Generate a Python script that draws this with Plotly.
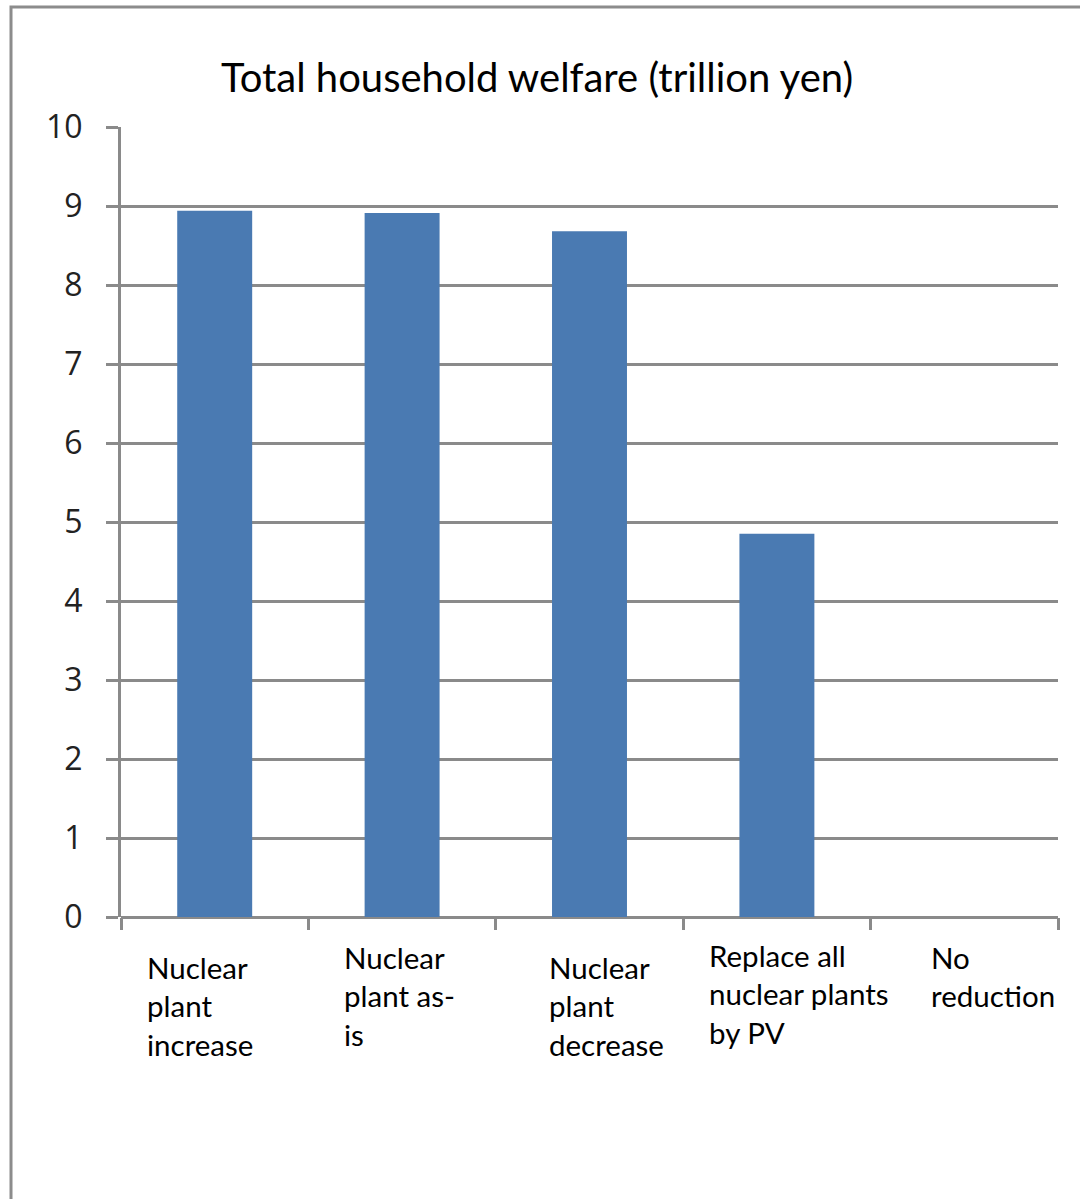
import plotly.graph_objects as go

categories = ["Nuclear plant increase", "Nuclear plant as-is", "Nuclear plant decrease",
              "Replace all nuclear plants by PV", "No reduction"]
values = [8.94, 8.91, 8.68, 4.85, 0.0]
label_lines = ["Nuclear<br>plant<br>increase", "Nuclear<br>plant as-<br>is", "Nuclear<br>plant<br>decrease",
               "Replace all<br>nuclear plants<br>by PV", "No<br>reduction"]
y_ticks = [0, 1, 2, 3, 4, 5, 6, 7, 8, 9, 10]
title_text = "Total household welfare (trillion yen)"

W, H = 1080, 1199
L, R, T, B = 121, 22, 127, 282
pw, ph = W - L - R, H - T - B

def px(x):
    return (x - L) / pw

def py(y):
    return (H - B - y) / ph

GRID = "#8a8a8a"
fig = go.Figure(go.Bar(x=list(range(len(categories))), y=values, marker_color="#4a7ab2",
                       marker_line_width=0, width=0.4, hovertext=categories))

# label placement (left edge px, top px)
lab_pos = [(145, 948), (342, 938), (547, 948), (707, 936), (929, 938)]
for txt, (lx, ly) in zip(label_lines, lab_pos):
    fig.add_annotation(x=px(lx), y=py(ly), xref="paper", yref="paper", text=txt, showarrow=False,
                       xanchor="left", yanchor="top", align="left",
                       font=dict(family="Lato, Open Sans, sans-serif", size=29.5, color="#000000"))

fig.add_shape(type="rect", xref="paper", yref="paper", x0=px(11), x1=px(1095), y0=py(1215), y1=py(7),
              line=dict(color="#8c8c8c", width=3), fillcolor="rgba(0,0,0,0)", layer="below")

fig.update_layout(
    width=W, height=H, margin=dict(l=L, r=R, t=T, b=B),
    paper_bgcolor="white", plot_bgcolor="white", showlegend=False,
    title=dict(text=title_text, x=px(537), xref="paper", xanchor="center", y=1 - 78 / H,
               yref="container", yanchor="middle",
               font=dict(family="Lato, Open Sans, sans-serif", size=40, color="#000000")),
    xaxis=dict(type="linear", range=[-0.5, 4.5], tickmode="array", tickvals=[-0.5, 0.5, 1.5, 2.5, 3.5, 4.5],
               showticklabels=False, ticks="outside", ticklen=12, tickwidth=3, tickcolor=GRID,
               showgrid=False, zeroline=False, showline=False),
    yaxis=dict(range=[0, 10], tickvals=y_ticks, ticks="outside", ticklen=12, tickwidth=3, tickcolor=GRID,
               showgrid=True, gridcolor=GRID, gridwidth=3, zeroline=True, zerolinecolor=GRID, zerolinewidth=3,
               showline=True, linecolor=GRID, linewidth=3, ticklabelstandoff=17,
               tickfont=dict(family="Open Sans, DejaVu Sans, sans-serif", size=32, color="#222222")),
)
fig.write_html("out.html")
